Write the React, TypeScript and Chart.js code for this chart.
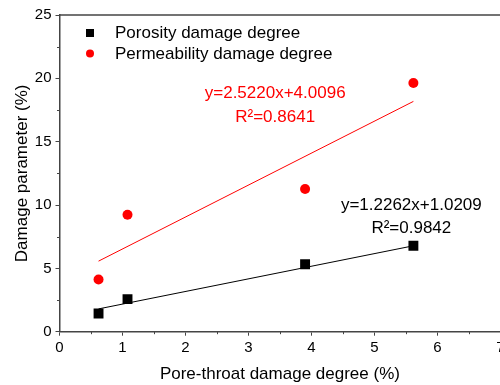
import { useEffect, useRef } from 'react';
import { Chart, registerables } from 'chart.js';

Chart.register(...registerables);

const poreThroat = [0.62, 1.08, 3.9, 5.62];
const porosity = [1.44, 2.57, 5.33, 6.78];
const permeability = [4.12, 9.23, 11.26, 19.63];
const fitX = [0.62, 5.62];
const porosityFitY = [1.8, 6.78];
const permeabilityFitY = [5.57, 18.18];
const seriesLabels = ['Porosity damage degree', 'Permeability damage degree'];
const porosityEquation = ['y=1.2262x+1.0209', 'R²=0.9842'];
const permeabilityEquation = ['y=2.5220x+4.0096', 'R²=0.8641'];
const xTitle = 'Pore-throat damage degree (%)';
const yTitle = 'Damage parameter (%)';

const FONT = '"Liberation Sans", Arial, sans-serif';
const AXIS = '#444444';

const decorPlugin = {
  id: 'decor',
  afterDraw(chart: any) {
    const { ctx, chartArea } = chart;
    const xs = chart.scales.x;
    const ys = chart.scales.y;
    ctx.save();
    // top frame line
    ctx.strokeStyle = AXIS;
    ctx.lineWidth = 1.5;
    ctx.beginPath();
    ctx.moveTo(chartArea.left, chartArea.top);
    ctx.lineTo(chartArea.right + 10, chartArea.top);
    ctx.stroke();
    // minor ticks
    ctx.lineWidth = 1;
    ctx.beginPath();
    for (let v = 0.5; v < 7; v += 1) {
      const px = Math.round(xs.getPixelForValue(v)) + 0.5;
      ctx.moveTo(px, chartArea.bottom);
      ctx.lineTo(px, chartArea.bottom + 2.5);
    }
    for (let v = 2.5; v < 25; v += 5) {
      const py = Math.round(ys.getPixelForValue(v)) + 0.5;
      ctx.moveTo(chartArea.left, py);
      ctx.lineTo(chartArea.left - 2.5, py);
    }
    ctx.stroke();

    // legend
    ctx.font = `17px ${FONT}`;
    ctx.textBaseline = 'alphabetic';
    ctx.textAlign = 'left';
    const lx = chartArea.left + 30.5;
    const ty = chartArea.top;
    ctx.fillStyle = '#000000';
    ctx.fillRect(lx - 4, ty + 14, 8, 8);
    ctx.fillText(seriesLabels[0], chartArea.left + 55.5, ty + 23);
    ctx.fillStyle = '#ff0000';
    ctx.beginPath();
    ctx.arc(lx, ty + 38.5, 4, 0, Math.PI * 2);
    ctx.fill();
    ctx.fillStyle = '#000000';
    ctx.fillText(seriesLabels[1], chartArea.left + 55.5, ty + 44.3);

    // equations
    ctx.textAlign = 'center';
    ctx.fillStyle = '#ff0000';
    ctx.fillText(permeabilityEquation[0], xs.getPixelForValue(3.425), ys.getPixelForValue(18.41));
    ctx.fillText(permeabilityEquation[1], xs.getPixelForValue(3.425), ys.getPixelForValue(16.55));
    ctx.fillStyle = '#000000';
    ctx.fillText(porosityEquation[0], xs.getPixelForValue(5.587), ys.getPixelForValue(9.6));
    ctx.fillText(porosityEquation[1], xs.getPixelForValue(5.587), ys.getPixelForValue(7.77));
    ctx.restore();
  },
};

export default function App() {
  const ref = useRef<HTMLCanvasElement | null>(null);

  useEffect(() => {
    if (!ref.current) return;
    const chart = new Chart(ref.current, {
      type: 'scatter',
      data: {
        datasets: [
          {
            label: seriesLabels[0],
            data: poreThroat.map((x, i) => ({ x, y: porosity[i] })),
            pointStyle: 'rect',
            pointRadius: 7,
            backgroundColor: '#000000',
            borderColor: '#000000',
            borderWidth: 0,
            order: 1,
          },
          {
            label: seriesLabels[1],
            data: poreThroat.map((x, i) => ({ x, y: permeability[i] })),
            pointStyle: 'circle',
            pointRadius: 5,
            backgroundColor: '#ff0000',
            borderColor: '#ff0000',
            borderWidth: 0,
            order: 1,
          },
          {
            label: 'porosity fit',
            data: fitX.map((x, i) => ({ x, y: porosityFitY[i] })),
            showLine: true,
            pointRadius: 0,
            borderColor: '#000000',
            borderWidth: 1,
            order: 2,
          },
          {
            label: 'permeability fit',
            data: fitX.map((x, i) => ({ x, y: permeabilityFitY[i] })),
            showLine: true,
            pointRadius: 0,
            borderColor: '#ff0000',
            borderWidth: 1,
            order: 2,
          },
        ],
      },
      options: {
        animation: false,
        responsive: false,
        devicePixelRatio: 1,
        layout: { padding: { left: 0, top: 15, right: 9.7, bottom: 0 } },
        plugins: {
          legend: { display: false },
          tooltip: { enabled: false },
        },
        scales: {
          x: {
            type: 'linear',
            min: 0,
            max: 7,
            afterFit: (s: any) => {
              s.height = 53.3;
            },
            ticks: {
              stepSize: 1,
              color: '#000000',
              font: { family: FONT, size: 15 },
              padding: 3,
            },
            grid: {
              drawOnChartArea: false,
              drawTicks: true,
              tickLength: 4,
              color: AXIS,
              lineWidth: 1,
            },
            border: { color: AXIS, width: 1.5 },
            title: {
              display: true,
              text: xTitle,
              color: '#000000',
              font: { family: FONT, size: 17 },
              padding: { top: 2, bottom: 0 },
            },
          },
          y: {
            type: 'linear',
            min: 0,
            max: 25,
            afterFit: (s: any) => {
              s.width = 59.5;
            },
            ticks: {
              stepSize: 5,
              color: '#000000',
              font: { family: FONT, size: 15 },
              padding: 4,
            },
            grid: {
              drawOnChartArea: false,
              drawTicks: true,
              tickLength: 4,
              color: AXIS,
              lineWidth: 1,
            },
            border: { color: AXIS, width: 1.5 },
            title: {
              display: true,
              text: yTitle,
              color: '#000000',
              font: { family: FONT, size: 17 },
              padding: { top: 12, bottom: 12 },
            },
          },
        },
      },
      plugins: [decorPlugin],
    });
    return () => chart.destroy();
  }, []);

  return (
    <div style={{ position: 'fixed', left: 0, top: 0, width: 500, height: 385, overflow: 'hidden', background: '#ffffff' }}>
      <canvas ref={ref} width={510} height={385} style={{ display: 'block', width: 510, height: 385 }} />
    </div>
  );
}
